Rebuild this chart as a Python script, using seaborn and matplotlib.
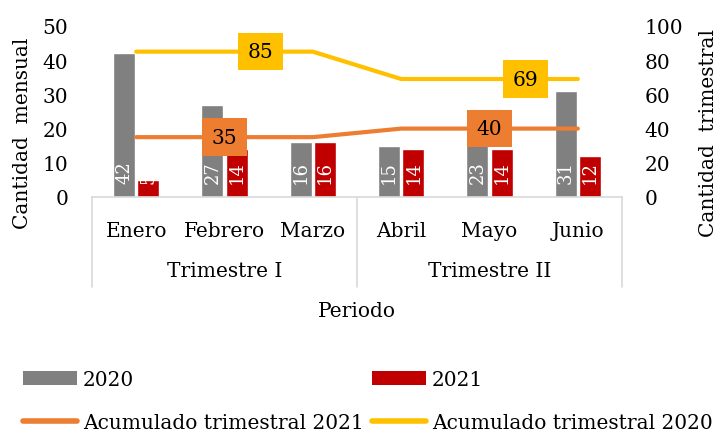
import matplotlib
matplotlib.use("Agg")
import matplotlib.pyplot as plt
import matplotlib.transforms as mtransforms
from matplotlib.patches import Patch
from matplotlib.lines import Line2D
import numpy as np
import pandas as pd
import seaborn as sns

# Datos mensuales y acumulados trimestrales
meses = ["Enero", "Febrero", "Marzo", "Abril", "Mayo", "Junio"]
trimestres = ["Trimestre I", "Trimestre II"]
meses_por_trimestre = 3
mensual_2020 = [42, 27, 16, 15, 23, 31]
mensual_2021 = [5, 14, 16, 14, 14, 12]
acumulado_2020 = [85, 85, 85, 69, 69, 69]
acumulado_2021 = [35, 35, 35, 40, 40, 40]
ticks_mensual = [0, 10, 20, 30, 40, 50]
ticks_trimestral = [0, 20, 40, 60, 80, 100]

GRIS = "#808080"
ROJO = "#C00000"
NARANJA = "#ED7D31"
AMARILLO = "#FFC000"
LINEA_EJE = "#D9D9D9"
FS = 14.5
EM = FS * 100 / 72

sns.set_theme(style="white")
plt.rcParams["font.family"] = ["DejaVu Serif"]
plt.rcParams["font.size"] = FS
plt.rcParams["text.color"] = "black"
plt.rcParams["axes.labelcolor"] = "black"
plt.rcParams["xtick.color"] = "black"
plt.rcParams["ytick.color"] = "black"

df = pd.DataFrame({
    "Mes": meses * 2,
    "Año": ["2020"] * len(meses) + ["2021"] * len(meses),
    "Cantidad": mensual_2020 + mensual_2021,
})

W, H = 722, 435
fig = plt.figure(figsize=(W / 100, H / 100), dpi=100)
ax_left, ax_right, ax_bottom, ax_top = 92, 622, 198, 27
ax_h = ax_bottom - ax_top
ax = fig.add_axes([ax_left / W, 1 - ax_bottom / H, (ax_right - ax_left) / W, ax_h / H])

sns.barplot(data=df, x="Mes", y="Cantidad", hue="Año", order=meses,
            hue_order=["2020", "2021"], palette={"2020": GRIS, "2021": ROJO},
            width=0.55, gap=0.1, saturation=1, errorbar=None, legend=False, ax=ax)

ax.set_ylim(0, 50)
ax.set_yticks(ticks_mensual)
ax.set_yticklabels([str(t) for t in ticks_mensual])
ax.set_xticks(range(len(meses)))
ax.set_xticklabels(meses)
ax.tick_params(axis="x", length=0, pad=17, labelsize=FS)
ax.tick_params(axis="y", length=0, pad=17, labelsize=FS)
for lado in ("left", "right", "top"):
    ax.spines[lado].set_visible(False)
ax.spines["bottom"].set_color(LINEA_EJE)
ax.spines["bottom"].set_linewidth(1.2)

# Etiquetas blancas en la base de cada barra
for cont, valores in zip(ax.containers, [mensual_2020, mensual_2021]):
    for barra, v in zip(cont, valores):
        t = ax.annotate(str(v), xy=(barra.get_x() + barra.get_width() / 2, 0),
                        xytext=(0, 14), textcoords="offset pixels",
                        ha="center", va="bottom", rotation=90,
                        color="white", fontsize=13)
        t.set_clip_path(barra)

# Eje de categorías agrupado por trimestre
trans = mtransforms.blended_transform_factory(ax.transData, ax.transAxes)
bordes = np.arange(0, len(meses) + 1, meses_por_trimestre) - 0.5
for xb in bordes:
    ax.plot([xb, xb], [0, -90 / ax_h], transform=trans, color=LINEA_EJE,
            lw=1.2, clip_on=False)
for k, nombre in enumerate(trimestres):
    centro = k * meses_por_trimestre + (meses_por_trimestre - 1) / 2
    ax.text(centro, -(272 - ax_bottom) / ax_h, nombre, transform=trans,
            ha="center", va="center", fontsize=FS)

ax.set_xlabel("Periodo", fontsize=FS)
ax.xaxis.set_label_coords(0.5, -(312 - ax_bottom) / ax_h)
ax.xaxis.label.set_verticalalignment("center")
ax.set_ylabel("Cantidad  mensual", fontsize=FS)
ax.yaxis.set_label_coords((23 - ax_left) / (ax_right - ax_left), (ax_bottom - 133) / ax_h)
ax.yaxis.label.set_verticalalignment("center")

# Eje secundario: acumulados trimestrales
ax2 = ax.twinx()
posiciones = np.arange(len(meses))
sns.lineplot(x=posiciones, y=acumulado_2020, color=AMARILLO, linewidth=3,
             solid_capstyle="round", ax=ax2)
sns.lineplot(x=posiciones, y=acumulado_2021, color=NARANJA, linewidth=3,
             solid_capstyle="round", ax=ax2)
ax.set_xlim(-0.5, len(meses) - 0.5)
ax2.set_ylim(0, 100)
ax2.set_yticks(ticks_trimestral)
ax2.set_yticklabels([str(t) for t in ticks_trimestral])
ax2.tick_params(axis="y", length=0, pad=16, labelsize=FS)
for lado in ("left", "right", "top", "bottom"):
    ax2.spines[lado].set_visible(False)
ax2.set_ylabel("Cantidad  trimestral", fontsize=FS, rotation=90)
ax2.yaxis.set_label_coords((708 - ax_left) / (ax_right - ax_left), (ax_bottom - 133) / ax_h)
ax2.yaxis.label.set_verticalalignment("center")

for serie, color, dx in [(acumulado_2021, NARANJA, 0), (acumulado_2020, AMARILLO, 36)]:
    for k in range(len(trimestres)):
        i = k * meses_por_trimestre + (meses_por_trimestre - 1) // 2
        ax2.annotate(str(serie[i]), xy=(i, serie[i]), xytext=(dx, 0),
                     textcoords="offset pixels", ha="center", va="center",
                     fontsize=FS, zorder=10,
                     bbox=dict(boxstyle="square,pad=0.46", fc=color, ec="none"))

# Leyenda
manejadores = [
    Patch(facecolor=GRIS, edgecolor="none"),
    Line2D([], [], color=NARANJA, lw=4, solid_capstyle="round"),
    Patch(facecolor=ROJO, edgecolor="none"),
    Line2D([], [], color=AMARILLO, lw=4, solid_capstyle="round"),
]
etiquetas = ["2020", "Acumulado trimestral 2021", "2021", "Acumulado trimestral 2020"]
fig.legend(manejadores, etiquetas, loc="upper left",
           bbox_to_anchor=(23 / W, 1 - 371 / H), ncol=2, frameon=False,
           fontsize=FS, handlelength=54 / EM, handleheight=0.7,
           handletextpad=6 / EM, columnspacing=8 / EM, labelspacing=1.2,
           borderpad=0, borderaxespad=0)

fig.savefig("out.png", dpi=100)
